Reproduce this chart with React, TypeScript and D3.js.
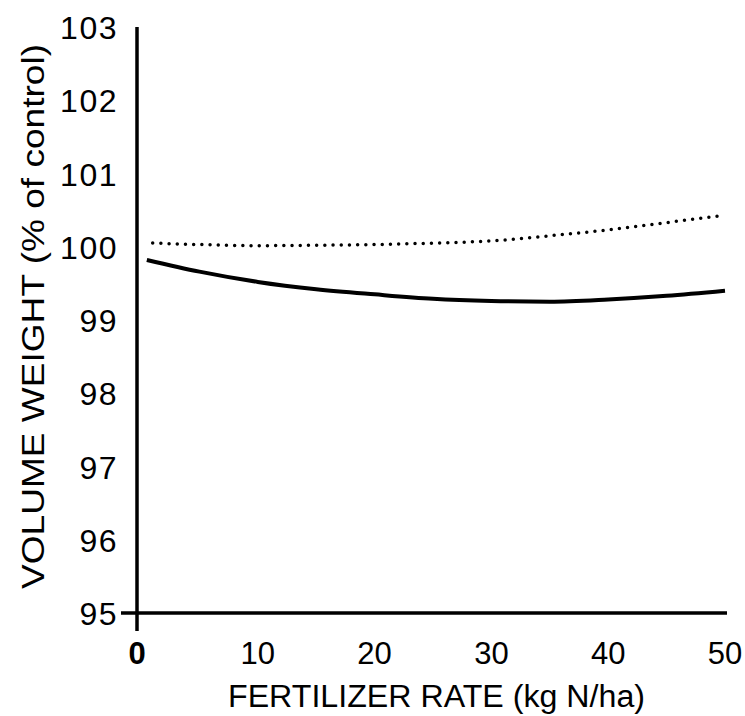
import React, { useRef, useEffect } from 'react';
import * as d3 from 'd3';

// fertilizer rate (kg N/ha)
const rates = [0.5, 5, 10, 15, 20, 25, 30, 35, 40, 45, 50];
const solidValues = [99.82, 99.66, 99.52, 99.42, 99.35, 99.29, 99.26, 99.25, 99.28, 99.33, 99.4];
const dottedRates = [1, 5, 10, 15, 20, 25, 30, 35, 40, 45, 50];
const dottedValues = [100.05, 100.03, 100.015, 100.02, 100.03, 100.05, 100.08, 100.15, 100.23, 100.33, 100.43];
const xTicks = [0, 10, 20, 30, 40, 50];
const yTicks = [95, 96, 97, 98, 99, 100, 101, 102, 103];

const App = () => {
    const svgRef = useRef<SVGSVGElement>(null);

    useEffect(() => {
        if (!svgRef.current) return;
        const svg = d3.select(svgRef.current);
        svg.selectAll('*').remove();

        const font = '"Liberation Sans", Arial, sans-serif';

        const x = d3.scaleLinear().domain([0, 50]).range([141, 725]);
        const y = d3.scaleLinear().domain([95, 103]).range([613, 27]);
        const axisX = 137;

        // axes
        svg.append('line')
            .attr('x1', axisX).attr('x2', axisX)
            .attr('y1', y(103)).attr('y2', y(95) + 18)
            .attr('stroke', '#000').attr('stroke-width', 3.5);
        svg.append('line')
            .attr('x1', axisX - 16).attr('x2', x(50) + 2)
            .attr('y1', y(95)).attr('y2', y(95))
            .attr('stroke', '#000').attr('stroke-width', 3.5);

        // y tick labels
        svg.selectAll('.ylab')
            .data(yTicks)
            .enter()
            .append('text')
            .attr('class', 'ylab')
            .attr('x', 118)
            .attr('y', d => y(d) + 12)
            .attr('text-anchor', 'end')
            .style('font-family', font)
            .style('font-size', '32px')
            .style('letter-spacing', '1.5px')
            .text(d => d);

        // x tick labels
        svg.selectAll('.xlab')
            .data(xTicks)
            .enter()
            .append('text')
            .attr('class', 'xlab')
            .attr('x', d => (d === 0 ? axisX : x(d)))
            .attr('y', 664)
            .attr('text-anchor', 'middle')
            .style('font-family', font)
            .style('font-size', '31px')
            .style('font-weight', d => (d === 0 ? 'bold' : 'normal'))
            .text(d => d);

        // axis titles
        svg.append('text')
            .attr('x', 228)
            .attr('y', 707)
            .attr('textLength', 417)
            .attr('lengthAdjust', 'spacingAndGlyphs')
            .style('font-family', font)
            .style('font-size', '31px')
            .text('FERTILIZER RATE (kg N/ha)');

        svg.append('text')
            .attr('transform', 'translate(44, 589) rotate(-90)')
            .attr('textLength', 545)
            .attr('lengthAdjust', 'spacingAndGlyphs')
            .style('font-family', font)
            .style('font-size', '31px')
            .text('VOLUME WEIGHT (% of control)');

        const line = d3.line<[number, number]>()
            .x(d => x(d[0]))
            .y(d => y(d[1]))
            .curve(d3.curveMonotoneX);

        svg.append('path')
            .attr('d', line(rates.map((r, i) => [r, solidValues[i]] as [number, number])))
            .attr('fill', 'none')
            .attr('stroke', '#000')
            .attr('stroke-width', 4);

        svg.append('path')
            .attr('d', line(dottedRates.map((r, i) => [r, dottedValues[i]] as [number, number])))
            .attr('fill', 'none')
            .attr('stroke', '#000')
            .attr('stroke-width', 3.5)
            .attr('stroke-linecap', 'round')
            .attr('stroke-dasharray', '0 8.2');
    }, []);

    return (
        <svg
            ref={svgRef}
            width={745}
            height={716}
            style={{ position: 'absolute', left: 0, top: 0, background: '#fff' }}
        />
    );
};

export default App;
